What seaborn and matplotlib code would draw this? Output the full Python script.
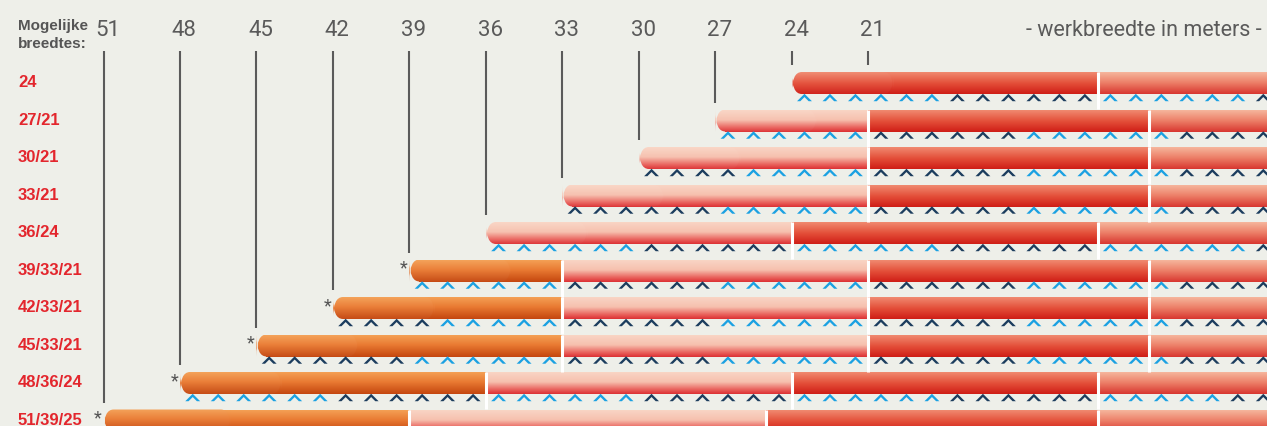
import numpy as np
import pandas as pd
import matplotlib.pyplot as plt
import matplotlib.transforms as mtransforms
from matplotlib.colors import LinearSegmentedColormap, to_rgb
from matplotlib.patches import FancyBboxPatch
from matplotlib.path import Path
import seaborn as sns

# ---- gegevens uit de figuur ----
rij_labels = ["24", "27/21", "30/21", "33/21", "36/24",
              "39/33/21", "42/33/21", "45/33/21", "48/36/24", "51/39/25"]
# grenzen van de stukken per rij (meters, van links naar rechts)
grenzen = [
    [24, 12, 0],
    [27, 21, 10, 0],
    [30, 21, 10, 0],
    [33, 21, 10, 0],
    [36, 24, 12, 0],
    [39, 33, 21, 10, 0],
    [42, 33, 21, 10, 0],
    [45, 33, 21, 10, 0],
    [48, 36, 24, 12, 0],
    [51, 39, 25, 12, 0],
]
soorten = [
    ["rood", "zalm"],
    ["roze", "rood", "zalm"],
    ["roze", "rood", "zalm"],
    ["roze", "rood", "zalm"],
    ["roze", "rood", "zalm"],
    ["oranje", "roze", "rood", "zalm"],
    ["oranje", "roze", "rood", "zalm"],
    ["oranje", "roze", "rood", "zalm"],
    ["oranje", "roze", "rood", "zalm"],
    ["oranje", "roze", "rood", "zalm"],
]
kop_lengte = [4, 4, 4, 4, 4, 4, 4, 4, 4, 5]
met_ster = [False, False, False, False, False, True, True, True, True, True]
kolommen = [51, 48, 45, 42, 39, 36, 33, 30, 27, 24, 21]
kolom_tot_rij = [9, 8, 7, 6, 5, 4, 3, 2, 1, 0, 0]
# pijltjes onder de balken: (kleur, aantal) vanaf het begin van de rij
pijl_groepen = [
    [("L", 6), ("D", 6), ("L", 6), ("D", 6)],
    [("L", 6), ("D", 6), ("L", 6), ("D", 6)],
    [("D", 4), ("L", 5), ("D", 6), ("L", 6), ("D", 6)],
    [("D", 6), ("L", 6), ("D", 6), ("L", 6), ("D", 6)],
    [("L", 6), ("D", 6), ("L", 6), ("D", 6), ("L", 6), ("D", 6)],
    [("L", 6), ("D", 6), ("L", 6), ("D", 6), ("L", 6), ("D", 6)],
    [("D", 4), ("L", 5), ("D", 6), ("L", 6), ("D", 6), ("L", 6), ("D", 6)],
    [("D", 6), ("L", 6), ("D", 6), ("L", 6), ("D", 6), ("L", 6), ("D", 6)],
    [("L", 6), ("D", 6), ("L", 6), ("D", 6), ("L", 6), ("D", 6), ("L", 5), ("D", 6)],
    [],
]

# ---- stijl ----
achtergrond = "#eeefe9"
verlopen = {
    "oranje": [(0.0, "#f4a055"), (0.45, "#e97a32"), (1.0, "#c4460f")],
    "roze": [(0.0, "#f9d5c5"), (0.45, "#f6c0ae"), (0.8, "#e9615c"), (1.0, "#dc3033")],
    "rood": [(0.0, "#f08a70"), (0.5, "#e4503a"), (1.0, "#cf1d16")],
    "zalm": [(0.0, "#f6b69d"), (0.5, "#ec7d66"), (1.0, "#d83630")],
}
pijl_kleuren = {"L": "#1ba1e2", "D": "#1c3d5e"}

PX_M = 25.49          # pixels per meter
RIJ_PX = 37.5         # pixels per rij


def px_naar_m(px):
    return 51 - (px - 103.5) / PX_M


def cmap_van(stops, licht=0.0):
    kl = []
    for pos, c in stops:
        r = np.array(to_rgb(c))
        kl.append((pos, tuple(r + (1 - r) * licht)))
    return LinearSegmentedColormap.from_list("v", kl)


def verloop(ax, patch, cmap, x0, x1, y0, y1, z):
    grad = np.linspace(0, 1, 128).reshape(-1, 1)
    im = ax.imshow(grad, cmap=cmap, extent=(x0, x1, y1, y0), aspect="auto",
                   origin="upper", interpolation="bilinear", zorder=z)
    im.set_clip_path(patch)


sns.set_theme(style="white")
plt.rcParams["font.family"] = ["Roboto", "DejaVu Sans"]

fig = plt.figure(figsize=(12.67, 4.27), dpi=100, facecolor=achtergrond)
ax = fig.add_axes([0, 0, 1, 1])
ax.set_facecolor(achtergrond)

bar_h = 22 / RIJ_PX
bar_dy = 2 / RIJ_PX
straal = 10 / PX_M
aspect = PX_M / RIJ_PX

# balken (de patches dienen als vorm, het verloop vult ze)
for i, (gr, sr) in enumerate(zip(grenzen, soorten)):
    yc = i + bar_dy
    y0, y1 = yc - bar_h / 2, yc + bar_h / 2
    for j, soort in enumerate(sr):
        links, rechts = gr[j], gr[j + 1]
        if j == 0:
            links_body = links - straal
        else:
            links_body = links
        rect = ax.barh(yc, width=links_body - rechts, left=rechts, height=bar_h,
                       color="none", linewidth=0, zorder=1)[0]
        verloop(ax, rect, cmap_van(verlopen[soort]), links_body, rechts, y0, y1, 2)
        if j < len(sr) - 1:
            ax.vlines(rechts, y0, y1 + 0.4, color="white", lw=2.2, zorder=5)
    # afgeronde kop aan het begin
    start = gr[0]
    kop = FancyBboxPatch((start - kop_lengte[i], y0), kop_lengte[i], bar_h,
                         boxstyle=f"round,pad=0,rounding_size={straal}",
                         mutation_aspect=1 / aspect,
                         facecolor="none", linewidth=0, zorder=2.5)
    ax.add_patch(kop)
    verloop(ax, kop, cmap_van(verlopen[sr[0]], licht=0.03), start, start - kop_lengte[i], y0, y1, 3)
    if met_ster[i]:
        ax.text(start + 0.22, i - 0.02, "*", ha="center", va="center",
                fontsize=13, color="#555555", zorder=6)

# pijltjes
pijl_x, pijl_y, pijl_k = [], [], []
for i, groepen in enumerate(pijl_groepen):
    w = grenzen[i][0] - 0.5
    for kleur, n in groepen:
        for _ in range(n):
            pijl_x.append(w)
            pijl_y.append(i + 16.5 / RIJ_PX)
            pijl_k.append(kleur)
            w -= 1
pijlen = pd.DataFrame({"x": pijl_x, "y": pijl_y, "kleur": pijl_k})

chevron = Path(
    [(-1, -0.5), (0, 0.5), (1, -0.5), (0.56, -0.5), (0, 0.06), (-0.56, -0.5), (-1, -0.5)],
    [Path.MOVETO] + [Path.LINETO] * 5 + [Path.CLOSEPOLY],
)
sns.scatterplot(data=pijlen, x="x", y="y", hue="kleur", palette=pijl_kleuren,
                marker=chevron, s=115, linewidth=0, edgecolor="none",
                legend=False, ax=ax, zorder=4)

# verticale lijnen en kolomkoppen
lijn_top = (52 - 82) / RIJ_PX
for k, r in zip(kolommen, kolom_tot_rij):
    ax.vlines(k, lijn_top, r - 16 / RIJ_PX, color="#5a5a5a", lw=1.5, zorder=1)
    ax.text(k - 0.17, (36 - 82) / RIJ_PX, str(k), ha="center", va="baseline",
            fontsize=16, color="#5a5a5a")

trans = mtransforms.blended_transform_factory(ax.transAxes, ax.transData)
smal = ["Liberation Sans Narrow", "Liberation Sans", "DejaVu Sans"]
for i, lab in enumerate(rij_labels):
    ax.text(18 / 1267, i + 5.3 / RIJ_PX, lab, transform=trans, ha="left", va="baseline",
            fontsize=12, fontweight="bold", color="#e3262d", family=smal)
ax.text(18 / 1267, (30 - 82) / RIJ_PX, "Mogelijke", transform=trans, ha="left",
        va="baseline", fontsize=11, fontweight="bold", color="#555555", family=smal)
ax.text(18 / 1267, (48 - 82) / RIJ_PX, "breedtes:", transform=trans, ha="left",
        va="baseline", fontsize=11, fontweight="bold", color="#555555", family=smal)
ax.text(1262 / 1267, (36 - 82) / RIJ_PX, "- werkbreedte in meters -", transform=trans,
        ha="right", va="baseline", fontsize=15.5, color="#5a5a5a")

ax.set_xlim(px_naar_m(0), px_naar_m(1267))
ax.set_ylim((427 - 82) / RIJ_PX, -82 / RIJ_PX)
ax.set_axis_off()

fig.savefig("out.png", dpi=100, facecolor=achtergrond)
